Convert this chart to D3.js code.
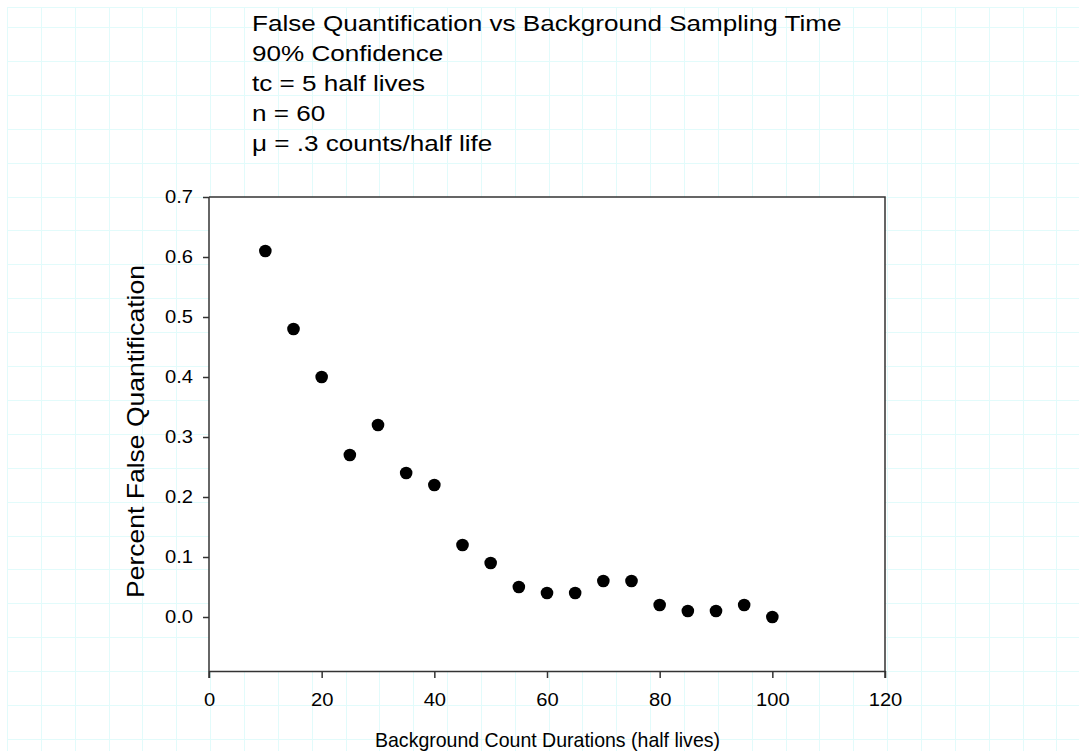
<!DOCTYPE html>
<html>
<head>
<meta charset="utf-8">
<script src="https://cdn.jsdelivr.net/npm/d3@7"></script>
<style>
  html, body { margin: 0; padding: 0; background: #fff; }
  svg { display: block; }
  text { font-family: "Liberation Sans", Arial, sans-serif; fill: #000; }
</style>
</head>
<body>
<svg id="chart" width="1079" height="751"></svg>
<script>
// ---- data ----
const durations = [10, 15, 20, 25, 30, 35, 40, 45, 50, 55, 60, 65, 70, 75, 80, 85, 90, 95, 100];
const falseQuant = [0.61, 0.48, 0.40, 0.27, 0.32, 0.24, 0.22, 0.12, 0.09, 0.05, 0.04, 0.04, 0.06, 0.06, 0.02, 0.01, 0.01, 0.02, 0.00];
const xTicks = [0, 20, 40, 60, 80, 100, 120];
const yTicks = [0.0, 0.1, 0.2, 0.3, 0.4, 0.5, 0.6, 0.7];
const titleLines = ["False Quantification vs Background Sampling Time", "90% Confidence", "tc = 5 half lives", "n = 60", "\u03BC = .3 counts/half life"];
const xLabel = "Background Count Durations (half lives)";
const yLabel = "Percent False Quantification";

const W = 1079, H = 751;
const svg = d3.select("#chart");

// background page grid
const grid = svg.append("g").attr("stroke", "#e2fbfb").attr("stroke-width", 1);
const vStep = 33.85, hStep = 33.9;
d3.range(0, 32).forEach(k => {
  const x = Math.round(7 + vStep * k) + 0.5;
  grid.append("line").attr("x1", x).attr("x2", x).attr("y1", 7).attr("y2", H);
});
[7].concat(d3.range(0, 22).map(k => 27 + hStep * k)).forEach(y => {
  const yy = Math.round(y) + 0.5;
  grid.append("line").attr("x1", 7).attr("x2", W).attr("y1", yy).attr("y2", yy);
});

const plot = { left: 209, top: 197, right: 885, bottom: 671 };
const x = d3.scaleLinear().domain([0, 120]).range([plot.left, plot.right]);
const y = d3.scaleLinear().domain([-0.09, 0.7]).range([plot.bottom, plot.top]);

// plot area white
svg.append("rect").attr("x", plot.left).attr("y", plot.top)
  .attr("width", plot.right - plot.left).attr("height", plot.bottom - plot.top)
  .attr("fill", "#fff");

// frame (top and right)
svg.append("path")
  .attr("d", `M${plot.left},${plot.top}H${plot.right}V${plot.bottom + 7}`)
  .attr("fill", "none").attr("stroke", "#333").attr("stroke-width", 1.5);

// axes
const xAxis = d3.axisBottom(x).tickValues(xTicks).tickFormat(d3.format("d")).tickSize(7).tickSizeOuter(0).tickPadding(15);
const gx = svg.append("g").attr("transform", `translate(0,${plot.bottom})`).call(xAxis);
const yAxis = d3.axisLeft(y).tickValues(yTicks).tickFormat(d3.format(".1f")).tickSize(6).tickSizeOuter(0).tickPadding(10);
const gy = svg.append("g").attr("transform", `translate(${plot.left},0)`).call(yAxis);
[gx, gy].forEach(g => {
  g.attr("font-size", 18).attr("font-family", null);
  g.select(".domain").attr("stroke", "#333").attr("stroke-width", 1.5);
  g.selectAll(".tick line").attr("stroke", "#333").attr("stroke-width", 1.5);
  g.selectAll(".tick text").style("font-size", "18px").attr("fill", "#000")
    .each(function () {
      const w = this.getComputedTextLength();
      d3.select(this).attr("textLength", w * 1.12).attr("lengthAdjust", "spacingAndGlyphs");
    });
});
gy.select(".domain").attr("d", `M0,${plot.top}V${plot.bottom + 7}`);

// points
svg.append("g").selectAll("circle").data(durations).join("circle")
  .attr("cx", d => x(d))
  .attr("cy", (d, i) => y(falseQuant[i]))
  .attr("r", 6.3)
  .attr("fill", "#000");

// title block (reference glyphs are wider than Liberation Sans; stretch horizontally)
const tg = svg.append("g").attr("transform", "translate(252,0) scale(1.185,1)");
titleLines.forEach((t, i) => {
  tg.append("text").attr("x", 0).attr("y", 31 + i * 29.9).style("font-size", "22px").text(t);
});

// axis labels
svg.append("text").attr("x", 547.5).attr("y", 747).attr("text-anchor", "middle").style("font-size", "21px")
  .attr("textLength", 345).attr("lengthAdjust", "spacingAndGlyphs").text(xLabel);
svg.append("text").attr("transform", `translate(144,431.5) rotate(-90)`).attr("text-anchor", "middle").style("font-size", "24px")
  .attr("textLength", 333).attr("lengthAdjust", "spacingAndGlyphs").text(yLabel);
</script>
</body>
</html>
